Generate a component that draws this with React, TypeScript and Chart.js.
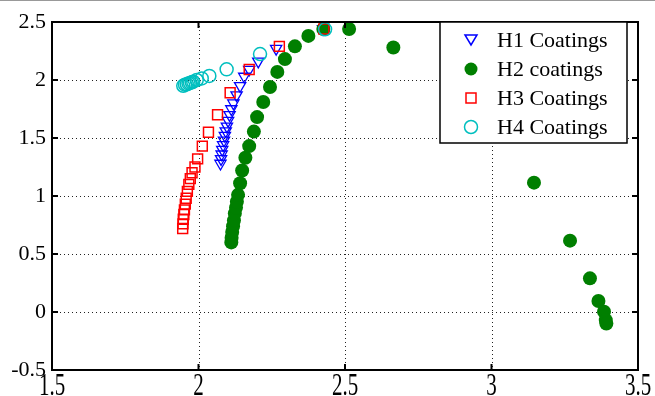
import React, { useEffect, useRef } from "react";
import { Chart, registerables } from "chart.js";

Chart.register(...registerables);

const xTicks = [1.5, 2, 2.5, 3, 3.5];
const yTicks = [-0.5, 0, 0.5, 1, 1.5, 2, 2.5];
const xTickLabels = ["1.5", "2", "2.5", "3", "3.5"];
const yTickLabels = ["-0.5", "0", "0.5", "1", "1.5", "2", "2.5"];

const seriesNames = ["H1 Coatings", "H2 coatings", "H3 Coatings", "H4 Coatings"];

const h1X = [2.075, 2.077, 2.079, 2.081, 2.084, 2.087, 2.09, 2.093, 2.097, 2.101, 2.106, 2.112, 2.119, 2.13, 2.142, 2.156, 2.173, 2.204, 2.265, 2.425];
const h1Y = [1.28, 1.32, 1.36, 1.4, 1.44, 1.48, 1.52, 1.56, 1.6, 1.65, 1.7, 1.75, 1.8, 1.87, 1.95, 2.03, 2.09, 2.16, 2.27, 2.44];

const h2X = [2.112, 2.113, 2.115, 2.118, 2.121, 2.124, 2.128, 2.131, 2.135, 2.142, 2.149, 2.16, 2.173, 2.189, 2.2, 2.221, 2.244, 2.269, 2.295, 2.329, 2.375, 2.426, 2.514, 2.665, 3.145, 3.268, 3.336, 3.365, 3.384, 3.39, 3.392];
const h2Y = [0.6, 0.64, 0.69, 0.74, 0.79, 0.85, 0.9, 0.95, 1.01, 1.11, 1.22, 1.33, 1.43, 1.555, 1.68, 1.81, 1.94, 2.07, 2.18, 2.29, 2.38, 2.44, 2.44, 2.28, 1.115, 0.615, 0.29, 0.095, 0.003, -0.07, -0.1];

const h3X = [1.946, 1.947, 1.948, 1.95, 1.952, 1.955, 1.958, 1.962, 1.967, 1.972, 1.978, 1.988, 1.997, 2.013, 2.034, 2.065, 2.108, 2.173, 2.276, 2.428];
const h3Y = [0.72, 0.76, 0.8, 0.84, 0.88, 0.93, 0.98, 1.04, 1.1, 1.15, 1.2, 1.25, 1.32, 1.43, 1.55, 1.7, 1.89, 2.09, 2.29, 2.44];

const h4X = [1.948, 1.954, 1.96, 1.966, 1.971, 1.977, 1.982, 1.994, 2.011, 2.037, 2.096, 2.21, 2.432];
const h4Y = [1.95, 1.96, 1.963, 1.97, 1.975, 1.98, 1.985, 2.0, 2.014, 2.035, 2.092, 2.224, 2.437];

const colors = ["#0000ff", "#007f00", "#ff0000", "#00bfbf"];

function pts(xs: number[], ys: number[]) {
  return xs.map((x, i) => ({ x, y: ys[i] }));
}

function drawMarker(ctx: CanvasRenderingContext2D, kind: number, x: number, y: number) {
  ctx.save();
  ctx.lineWidth = 1.5;
  ctx.strokeStyle = colors[kind];
  ctx.fillStyle = colors[kind];
  ctx.beginPath();
  if (kind === 0) {
    ctx.moveTo(x - 6, y - 5);
    ctx.lineTo(x + 6, y - 5);
    ctx.lineTo(x, y + 5);
    ctx.closePath();
    ctx.stroke();
  } else if (kind === 1) {
    ctx.arc(x, y, 6.5, 0, Math.PI * 2);
    ctx.fill();
  } else if (kind === 2) {
    ctx.rect(x - 5, y - 5, 10, 10);
    ctx.stroke();
  } else {
    ctx.arc(x, y, 6.5, 0, Math.PI * 2);
    ctx.stroke();
  }
  ctx.restore();
}

const framePlugin = {
  id: "frame",
  beforeDatasetsDraw(chart: any) {
    const { ctx, chartArea: a, scales } = chart;
    ctx.save();
    ctx.strokeStyle = "#222";
    ctx.lineWidth = 1;
    ctx.setLineDash([1, 3]);
    xTicks.forEach((t) => {
      const px = Math.round(scales.x.getPixelForValue(t)) + 0.5;
      ctx.beginPath();
      ctx.moveTo(px, a.top);
      ctx.lineTo(px, a.bottom);
      ctx.stroke();
    });
    yTicks.forEach((t) => {
      const py = Math.round(scales.y.getPixelForValue(t)) + 0.5;
      ctx.beginPath();
      ctx.moveTo(a.left, py);
      ctx.lineTo(a.right, py);
      ctx.stroke();
    });
    ctx.restore();
  },
  afterDraw(chart: any) {
    const { ctx, chartArea: a, scales } = chart;
    ctx.save();
    ctx.strokeStyle = "#000";
    ctx.lineWidth = 2;
    ctx.setLineDash([]);
    ctx.strokeRect(a.left, a.top, a.right - a.left, a.bottom - a.top);
    const tl = 6;
    xTicks.forEach((t) => {
      const px = scales.x.getPixelForValue(t);
      ctx.beginPath();
      ctx.moveTo(px, a.bottom);
      ctx.lineTo(px, a.bottom - tl);
      ctx.moveTo(px, a.top);
      ctx.lineTo(px, a.top + tl);
      ctx.stroke();
    });
    yTicks.forEach((t) => {
      const py = scales.y.getPixelForValue(t);
      ctx.beginPath();
      ctx.moveTo(a.left, py);
      ctx.lineTo(a.left + tl, py);
      ctx.moveTo(a.right, py);
      ctx.lineTo(a.right - tl, py);
      ctx.stroke();
    });
    // x tick labels (vertically stretched as in the reference)
    ctx.fillStyle = "#000";
    ctx.font = '21px "Liberation Serif"';
    ctx.textAlign = "center";
    ctx.textBaseline = "alphabetic";
    xTicks.forEach((t, i) => {
      const px = scales.x.getPixelForValue(t);
      ctx.save();
      ctx.translate(px, 395);
      ctx.scale(1, 1.5);
      ctx.fillText(xTickLabels[i], 0, 0);
      ctx.restore();
    });
    // legend
    const lx = 440, ly = 22, lw = 187, lh = 121;
    ctx.fillStyle = "#fff";
    ctx.fillRect(lx, ly, lw, lh);
    ctx.lineWidth = 1.5;
    ctx.strokeStyle = "#000";
    ctx.strokeRect(lx, ly, lw, lh);
    const rows = [40, 69, 98, 127];
    ctx.font = '22px "Liberation Serif"';
    ctx.textBaseline = "middle";
    ctx.textAlign = "left";
    rows.forEach((ry, i) => {
      drawMarker(ctx, i, 471, ry);
      ctx.fillStyle = "#000";
      ctx.fillText(seriesNames[i], 497, ry + 1);
    });
    ctx.restore();
  },
};

export default function App() {
  const ref = useRef<HTMLCanvasElement | null>(null);
  useEffect(() => {
    if (!ref.current) return;
    const tickFont = { family: '"Liberation Serif"', size: 22 };
    const chart = new Chart(ref.current, {
      type: "scatter",
      data: {
        datasets: [
          {
            label: seriesNames[0],
            data: pts(h1X, h1Y),
            pointStyle: "triangle",
            rotation: 180,
            radius: 6.5,
            borderColor: colors[0],
            backgroundColor: "rgba(0,0,0,0)",
            borderWidth: 1.3,
            order: 3,
          },
          {
            label: seriesNames[1],
            data: pts(h2X, h2Y),
            pointStyle: "circle",
            radius: 7,
            borderColor: colors[1],
            backgroundColor: colors[1],
            borderWidth: 0,
            order: 2,
          },
          {
            label: seriesNames[2],
            data: pts(h3X, h3Y),
            pointStyle: "rect",
            radius: 7,
            borderColor: colors[2],
            backgroundColor: "rgba(0,0,0,0)",
            borderWidth: 1.5,
            order: 1,
          },
          {
            label: seriesNames[3],
            data: pts(h4X, h4Y),
            pointStyle: "circle",
            radius: 6.5,
            borderColor: colors[3],
            backgroundColor: "rgba(0,0,0,0)",
            borderWidth: 1.5,
            order: 0,
          },
        ] as any,
      },
      options: {
        animation: false,
        responsive: false,
        maintainAspectRatio: false,
        layout: { padding: { top: 22, right: 17, left: 0, bottom: 0 } },
        plugins: { legend: { display: false }, tooltip: { enabled: false } },
        scales: {
          x: {
            type: "linear",
            min: 1.5,
            max: 3.5,
            afterBuildTicks: (s: any) => {
              s.ticks = xTicks.map((v) => ({ value: v }));
            },
            afterFit: (s: any) => {
              s.height = 26;
            },
            ticks: { display: false },
            grid: { display: false, drawTicks: false },
            border: { display: false },
          },
          y: {
            type: "linear",
            min: -0.5,
            max: 2.5,
            afterBuildTicks: (s: any) => {
              s.ticks = yTicks.map((v) => ({ value: v }));
            },
            afterFit: (s: any) => {
              s.width = 52;
            },
            ticks: {
              font: tickFont,
              color: "#000",
              padding: 6,
              autoSkip: false,
              callback: (v: any) => {
                const i = yTicks.indexOf(Number(v));
                return i >= 0 ? yTickLabels[i] : "";
              },
            },
            grid: { display: false, drawTicks: false },
            border: { display: false },
          },
        },
      } as any,
      plugins: [framePlugin],
    });
    return () => chart.destroy();
  }, []);
  return (
    <div style={{ position: "fixed", left: 0, top: 0, width: 655, height: 396, background: "#fff" }}>
      <div style={{ position: "absolute", left: 0, top: 0, width: 655, height: 1, background: "#999" }} />
      <canvas ref={ref} width={655} height={396} style={{ display: "block" }} />
    </div>
  );
}
